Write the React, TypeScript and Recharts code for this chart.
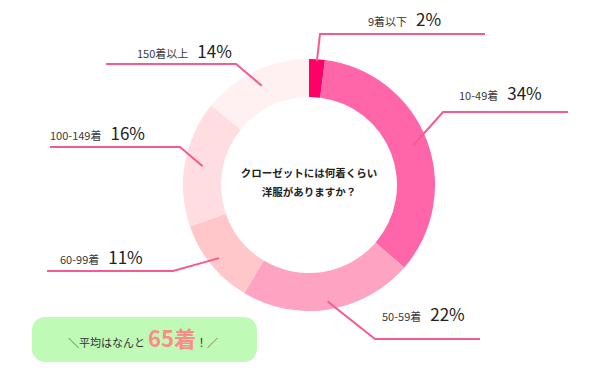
import React from 'react';
import { PieChart, Pie, Cell } from 'recharts';

const categories = ['9着以下', '10-49着', '50-59着', '60-99着', '100-149着', '150着以上'];
const shares = [2, 34, 22, 11, 16, 14];
const percentLabels = ['2%', '34%', '22%', '11%', '16%', '14%'];
const sliceColors = ['#FF0066', '#FF66AA', '#FFA3C3', '#FFC7C9', '#FFDDE0', '#FFF0F1'];

const centerLines = ['クローゼットには何着くらい', '洋服がありますか？'];
const averageLead = '＼平均はなんと';
const averageValue = '65着';
const averageTail = '！／';

// label layout: leader start radius, elbow point, horizontal end, text start & baseline
const labelLayout = [
  { startR: 124, elbow: [320, 34], endX: 485, textX: 368, baseY: 26 },
  { startR: 112, elbow: [443, 112], endX: 568, textX: 459, baseY: 100 },
  { startR: 118, elbow: [375, 339], endX: 480, textX: 382, baseY: 321 },
  { startR: 116, elbow: [173, 271], endX: 47, textX: 60, baseY: 264 },
  { startR: 108, elbow: [180, 147], endX: 50, textX: 50, baseY: 140 },
  { startR: 110, elbow: [236, 64], endX: 106, textX: 137, baseY: 58 },
];

const data = categories.map((name, i) => ({ name, value: shares[i], pct: percentLabels[i] }));

const FONT = '"Noto Sans CJK JP", "Noto Sans", sans-serif';
const RAD = Math.PI / 180;
const LINE = '#F55A93';

const renderLabel = (props: any) => {
  const { cx, cy, midAngle, index } = props;
  const L = labelLayout[index];
  const sx = cx + L.startR * Math.cos(-midAngle * RAD);
  const sy = cy + L.startR * Math.sin(-midAngle * RAD);
  const [ex, ey] = L.elbow;
  return (
    <g key={`lbl-${index}`}>
      <polyline
        points={`${sx},${sy} ${ex},${ey} ${L.endX},${ey}`}
        fill="none"
        stroke={LINE}
        strokeWidth={2}
      />
      <text x={L.textX} y={L.baseY} fontFamily={FONT} fill="#3a3a3a" textAnchor="start">
        <tspan fontSize={11}>{categories[index]}</tspan>
        <tspan dx={9} fontSize={17} fill="#222">{percentLabels[index]}</tspan>
      </text>
    </g>
  );
};

export default function App() {
  return (
    <div style={{ position: 'fixed', left: 0, top: 0, width: 600, height: 372, background: '#fff' }}>
      <PieChart width={600} height={372} margin={{ top: 0, right: 0, bottom: 0, left: 0 }}>
        <Pie
          data={data}
          dataKey="value"
          nameKey="name"
          cx={309}
          cy={185}
          innerRadius={88}
          outerRadius={126}
          startAngle={90}
          endAngle={-270}
          stroke="none"
          label={renderLabel}
          labelLine={false}
          isAnimationActive={false}
        >
          {data.map((d, i) => (
            <Cell key={d.name} fill={sliceColors[i]} />
          ))}
        </Pie>
        <text x={309} y={177} textAnchor="middle" fontFamily={FONT} fontSize={10.5} fontWeight="bold" fill="#222">
          {centerLines[0]}
        </text>
        <text x={309} y={196} textAnchor="middle" fontFamily={FONT} fontSize={10.5} fontWeight="bold" fill="#222">
          {centerLines[1]}
        </text>
        <rect x={32} y={317} width={225} height={45} rx={13} ry={13} fill="#BFFBB6" />
        <text x={68} y={347} textAnchor="start" fontFamily={FONT} fill="#333">
          <tspan fontSize={11}>{averageLead}</tspan>
          <tspan dx={3} fontSize={22} fontWeight="bold" fill="#FF8A8C">{averageValue}</tspan>
          <tspan dx={0} fontSize={11}>{averageTail}</tspan>
        </text>
      </PieChart>
    </div>
  );
}
